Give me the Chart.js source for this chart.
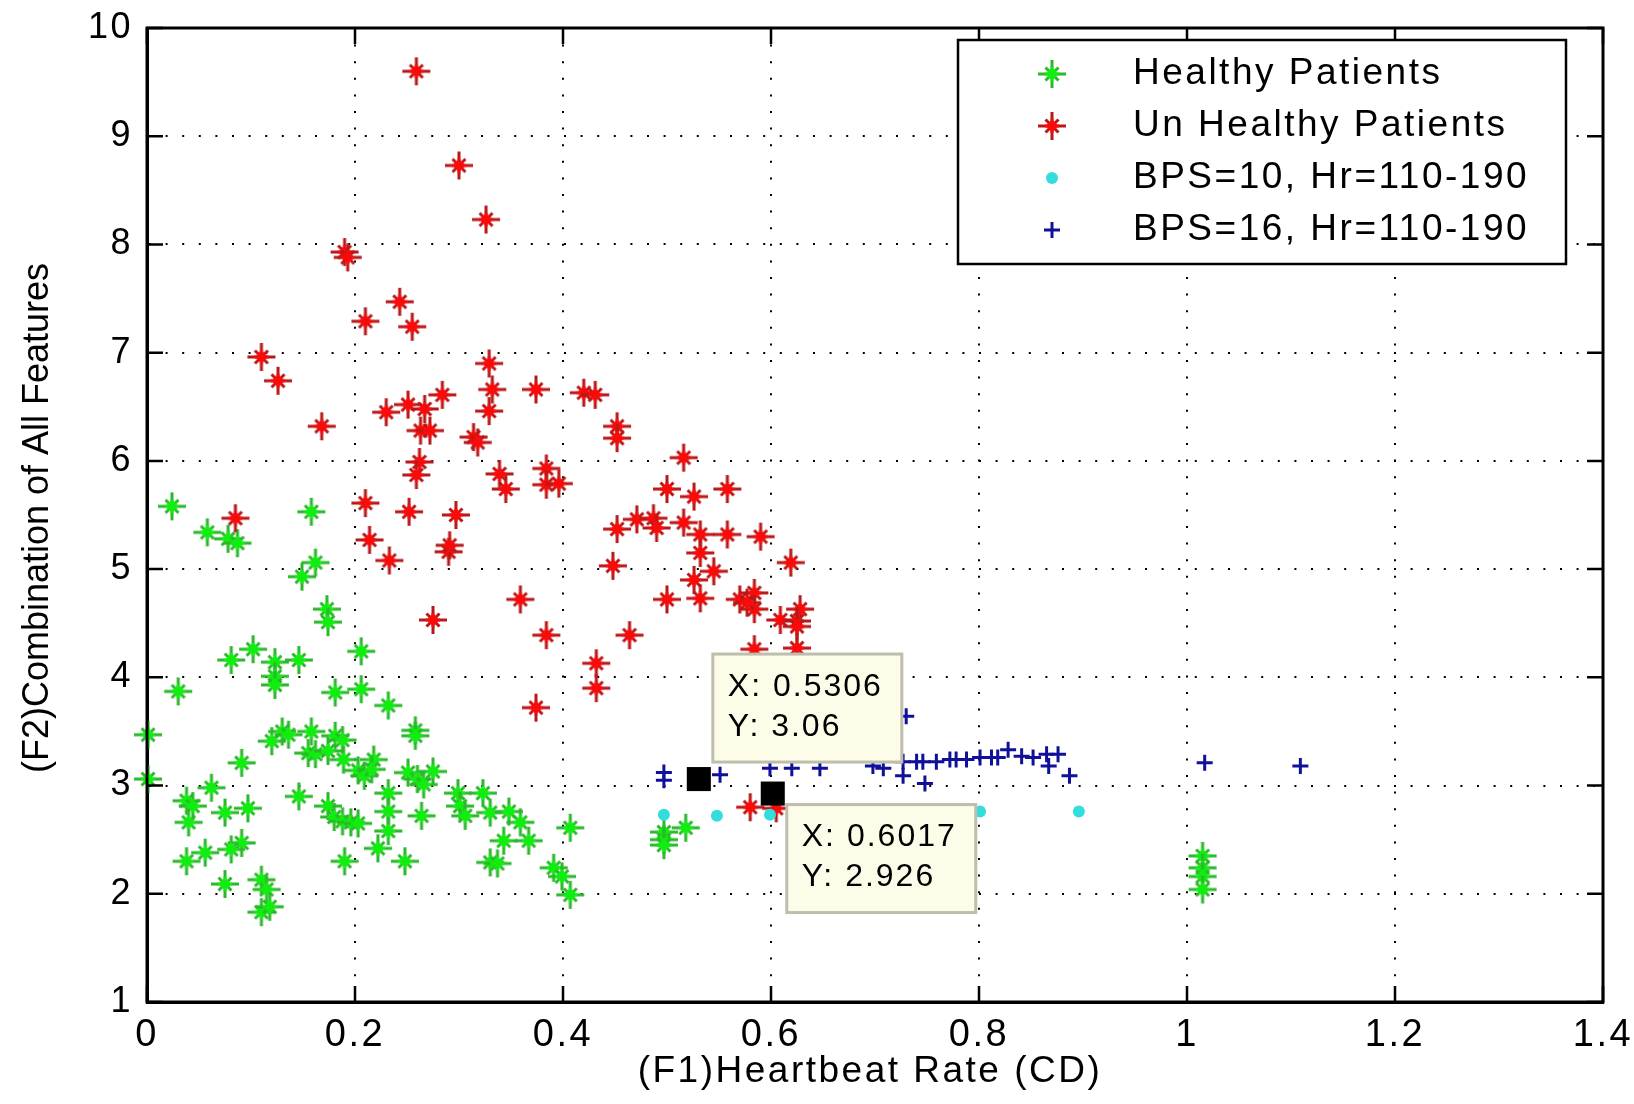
<!DOCTYPE html>
<html>
<head>
<meta charset="utf-8">
<title>F1 vs F2 scatter</title>
<script src="https://cdn.jsdelivr.net/npm/chart.js@4.4.1/dist/chart.umd.min.js"></script>
<style>
  html, body { margin: 0; padding: 0; background: #fff; }
  #wrap { width: 1634px; height: 1104px; }
</style>
</head>
<body>
<div id="wrap"><canvas id="chart" width="1634" height="1104"></canvas></div>
<script>
// each point is [F1 heartbeat rate, F2 combination of all features]
const healthy = [
  [0.024, 5.58], [0.058, 5.34], [0.078, 5.28], [0.087, 5.24], [0.158, 5.53], [0.162, 5.06],
  [0.149, 4.93], [0.173, 4.63], [0.174, 4.51], [0.206, 4.24], [0.081, 4.16], [0.102, 4.26],
  [0.123, 4.14], [0.146, 4.16], [0.123, 4.01], [0.123, 3.93], [0.030, 3.87], [0.001, 3.47],
  [0.001, 3.06], [0.181, 3.86], [0.206, 3.89], [0.232, 3.74], [0.258, 3.51], [0.258, 3.46],
  [0.130, 3.50], [0.136, 3.47], [0.158, 3.50], [0.181, 3.46], [0.188, 3.42], [0.120, 3.41],
  [0.155, 3.30], [0.162, 3.29], [0.174, 3.32], [0.189, 3.24], [0.218, 3.24], [0.203, 3.14],
  [0.209, 3.09], [0.216, 3.15], [0.091, 3.21], [0.251, 3.12], [0.260, 3.06], [0.266, 3.01],
  [0.275, 3.13], [0.232, 2.93], [0.232, 2.76], [0.232, 2.58], [0.222, 2.42], [0.248, 2.30],
  [0.190, 2.30], [0.146, 2.90], [0.174, 2.81], [0.180, 2.71], [0.188, 2.67], [0.196, 2.66],
  [0.203, 2.65], [0.264, 2.72], [0.299, 2.93], [0.323, 2.93], [0.301, 2.81], [0.306, 2.72],
  [0.330, 2.75], [0.348, 2.76], [0.359, 2.66], [0.367, 2.49], [0.343, 2.49], [0.330, 2.29],
  [0.337, 2.28], [0.407, 2.61], [0.391, 2.24], [0.399, 2.16], [0.407, 1.99], [0.062, 2.98],
  [0.038, 2.86], [0.044, 2.81], [0.040, 2.66], [0.075, 2.75], [0.097, 2.79], [0.091, 2.47],
  [0.081, 2.41], [0.056, 2.38], [0.038, 2.30], [0.075, 2.09], [0.110, 2.13], [0.115, 2.04],
  [0.110, 1.83], [0.118, 1.88], [0.497, 2.57], [0.497, 2.50], [0.497, 2.45], [0.518, 2.61],
  [1.015, 2.35], [1.015, 2.24], [1.015, 2.16], [1.015, 2.04]
];

const unhealthy = [
  [0.259, 9.60], [0.300, 8.73], [0.326, 8.23], [0.190, 7.93], [0.193, 7.88], [0.243, 7.47],
  [0.210, 7.29], [0.255, 7.24], [0.110, 6.96], [0.126, 6.74], [0.168, 6.32], [0.329, 6.90],
  [0.332, 6.66], [0.374, 6.66], [0.329, 6.46], [0.420, 6.63], [0.431, 6.61], [0.284, 6.61],
  [0.251, 6.52], [0.267, 6.48], [0.230, 6.45], [0.263, 6.28], [0.272, 6.28], [0.314, 6.22],
  [0.318, 6.17], [0.262, 5.99], [0.259, 5.87], [0.339, 5.88], [0.345, 5.74], [0.384, 5.93],
  [0.384, 5.78], [0.396, 5.79], [0.085, 5.47], [0.210, 5.61], [0.252, 5.53], [0.297, 5.50],
  [0.214, 5.27], [0.233, 5.08], [0.290, 5.16], [0.291, 5.22], [0.359, 4.72], [0.275, 4.53],
  [0.384, 4.39], [0.432, 4.13], [0.432, 3.90], [0.374, 3.72], [0.452, 6.32], [0.452, 6.21],
  [0.516, 6.03], [0.500, 5.74], [0.526, 5.67], [0.558, 5.74], [0.452, 5.37], [0.471, 5.46],
  [0.487, 5.47], [0.490, 5.38], [0.516, 5.43], [0.532, 5.32], [0.558, 5.32], [0.590, 5.30],
  [0.532, 5.15], [0.448, 5.03], [0.619, 5.06], [0.545, 4.98], [0.526, 4.90], [0.500, 4.72],
  [0.532, 4.73], [0.570, 4.72], [0.584, 4.78], [0.584, 4.63], [0.577, 4.69], [0.609, 4.53],
  [0.628, 4.63], [0.625, 4.52], [0.625, 4.47], [0.625, 4.27], [0.584, 4.26], [0.464, 4.39],
  [0.580, 2.80], [0.605, 2.79]
];

const bps10 = [
  [0.497, 2.73], [0.548, 2.72], [0.599, 2.73], [0.683, 2.77], [0.801, 2.76], [0.896, 2.76]
];

const bps16 = [
  [0.497, 3.05], [0.497, 3.12], [0.5306, 3.06], [0.551, 3.10], [0.599, 3.16], [0.620, 3.16],
  [0.647, 3.16], [0.698, 3.18], [0.708, 3.16], [0.730, 3.64], [0.727, 3.22], [0.727, 3.09],
  [0.740, 3.22], [0.746, 3.22], [0.748, 3.02], [0.759, 3.22], [0.772, 3.24], [0.778, 3.24],
  [0.788, 3.24], [0.801, 3.26], [0.812, 3.26], [0.818, 3.26], [0.828, 3.33], [0.841, 3.27],
  [0.852, 3.26], [0.865, 3.29], [0.876, 3.29], [0.867, 3.18], [0.887, 3.09], [1.017, 3.21],
  [1.109, 3.18]
];

// data tips pinned on the figure
const tipX = [0.5306, 0.6017];
const tipY = [3.06, 2.926];

const seriesNames = ['Healthy Patients', 'Un Healthy Patients', 'BPS=10, Hr=110-190', 'BPS=16, Hr=110-190'];
const xTicks = [0, 0.2, 0.4, 0.6, 0.8, 1, 1.2, 1.4];
const yTicks = [1, 2, 3, 4, 5, 6, 7, 8, 9, 10];
const xTitle = '(F1)Heartbeat Rate (CD)';
const yTitle = '(F2)Combination of All Features';

const FONT = '"Liberation Sans", Arial, sans-serif';
const toXY = arr => arr.map(p => ({ x: p[0], y: p[1] }));

// matlab '*' marker: long plus arms, short diagonals, solid middle
function makeStar(armColor, coreColor) {
  const c = document.createElement('canvas');
  c.width = 32; c.height = 32;
  const g = c.getContext('2d');
  g.lineCap = 'butt';
  g.strokeStyle = armColor;
  g.lineWidth = 3;
  g.beginPath();
  g.moveTo(16, 2); g.lineTo(16, 30);
  g.moveTo(2, 16); g.lineTo(30, 16);
  g.moveTo(9.5, 9.5); g.lineTo(22.5, 22.5);
  g.moveTo(22.5, 9.5); g.lineTo(9.5, 22.5);
  g.stroke();
  g.strokeStyle = coreColor;
  g.beginPath();
  g.moveTo(16, 9); g.lineTo(16, 23);
  g.moveTo(9, 16); g.lineTo(23, 16);
  g.stroke();
  g.fillStyle = coreColor;
  g.beginPath();
  g.arc(16, 16, 5, 0, Math.PI * 2);
  g.fill();
  return c;
}
const greenStar = makeStar('#2ab82a', '#10ee10');
const redStar = makeStar('#b81818', '#fa0a0a');

// draws the matlab style box, inward ticks, titles, data tips and legend
const matlabLook = {
  id: 'matlabLook',
  beforeUpdate(chart) { chart.ctx.letterSpacing = '2.5px'; },
  beforeDraw(chart) { chart.ctx.letterSpacing = '2.5px'; },
  afterDraw(chart) {
    const ctx = chart.ctx;
    const { left, right, top, bottom } = chart.chartArea;
    const xs = chart.scales.x, ys = chart.scales.y;
    ctx.save();

    // tick marks pointing into the plot on all four sides
    ctx.strokeStyle = '#000';
    ctx.lineWidth = 2.5;
    ctx.beginPath();
    xTicks.forEach(v => {
      const p = xs.getPixelForValue(v);
      ctx.moveTo(p, bottom); ctx.lineTo(p, bottom - 16);
      ctx.moveTo(p, top); ctx.lineTo(p, top + 16);
    });
    yTicks.forEach(v => {
      const p = ys.getPixelForValue(v);
      ctx.moveTo(left, p); ctx.lineTo(left + 16, p);
      ctx.moveTo(right, p); ctx.lineTo(right - 16, p);
    });
    ctx.stroke();
    ctx.lineWidth = 3;
    ctx.strokeRect(left, top, right - left, bottom - top);

    // axis titles
    ctx.fillStyle = '#000';
    ctx.textAlign = 'center';
    ctx.textBaseline = 'middle';
    ctx.font = '37px ' + FONT;
    ctx.letterSpacing = '2.5px';
    ctx.fillText(xTitle, (left + right) / 2 - 5, bottom + 70);
    ctx.save();
    ctx.translate(38, (top + bottom) / 2 + 3);
    ctx.rotate(-Math.PI / 2);
    ctx.font = '36px ' + FONT;
    ctx.letterSpacing = '0px';
    ctx.fillText(yTitle, 0, 0);
    ctx.restore();

    // data tip boxes, first one above the point, second one below
    tipX.forEach((x, i) => {
      const px = xs.getPixelForValue(x);
      const py = ys.getPixelForValue(tipY[i]);
      const w = 189, h = 108;
      const bx = px + 14;
      const by = i === 0 ? py - 125 : py + 11;
      ctx.fillStyle = '#fcfce9';
      ctx.fillRect(bx, by, w, h);
      ctx.strokeStyle = '#bebeae';
      ctx.lineWidth = 3;
      ctx.strokeRect(bx, by, w, h);
      ctx.fillStyle = '#000';
      ctx.font = '32px ' + FONT;
      ctx.letterSpacing = '2px';
      ctx.textAlign = 'left';
      ctx.fillText('X: ' + x, bx + 15, by + 33);
      ctx.fillText('Y: ' + tipY[i], bx + 15, by + 73);
    });

    // legend box in the top right corner
    const lw = 608, lh = 224;
    const lx = right - 37 - lw, ly = top + 12;
    ctx.fillStyle = '#fff';
    ctx.fillRect(lx, ly, lw, lh);
    ctx.strokeStyle = '#000';
    ctx.lineWidth = 2.5;
    ctx.strokeRect(lx, ly, lw, lh);
    seriesNames.forEach((name, i) => {
      const ds = chart.data.datasets[i];
      const ry = ly + 34 + i * 52;
      ctx.save();
      ctx.strokeStyle = ds.borderColor;
      ctx.fillStyle = ds.backgroundColor;
      ctx.lineWidth = ds.pointBorderWidth;
      Chart.helpers.drawPoint(ctx, {
        pointStyle: ds.pointStyle, radius: ds.pointRadius,
        borderWidth: ds.pointBorderWidth, rotation: 0
      }, lx + 94, ry);
      ctx.restore();
      ctx.fillStyle = '#000';
      ctx.font = '37px ' + FONT;
      ctx.letterSpacing = '2.5px';
      ctx.textAlign = 'left';
      ctx.textBaseline = 'middle';
      ctx.fillText(name, lx + 175, ry);
    });

    ctx.restore();
  }
};

const ctx = document.getElementById('chart').getContext('2d');
new Chart(ctx, {
  type: 'scatter',
  data: {
    datasets: [
      {
        label: seriesNames[0], data: toXY(healthy), order: 5,
        pointStyle: greenStar, pointRadius: 14, pointBorderWidth: 0,
        borderColor: '#12e012', backgroundColor: '#12e012', clip: false
      },
      {
        label: seriesNames[1], data: toXY(unhealthy), order: 4,
        pointStyle: redStar, pointRadius: 14, pointBorderWidth: 0,
        borderColor: '#ee0a0a', backgroundColor: '#ee0a0a', clip: false
      },
      {
        label: seriesNames[2], data: toXY(bps10), order: 3,
        pointStyle: 'circle', pointRadius: 6, pointBorderWidth: 0,
        borderColor: '#33dddd', backgroundColor: '#33dddd', clip: false
      },
      {
        label: seriesNames[3], data: toXY(bps16), order: 2,
        pointStyle: 'cross', pointRadius: 8, pointBorderWidth: 3,
        borderColor: '#10109a', backgroundColor: '#10109a', clip: false
      },
      {
        label: 'data tips', data: tipX.map((x, i) => ({ x: x, y: tipY[i] })), order: 1,
        pointStyle: 'rect', pointRadius: 17, pointBorderWidth: 0,
        borderColor: '#000', backgroundColor: '#000', clip: false
      }
    ]
  },
  options: {
    responsive: false,
    devicePixelRatio: 1,
    animation: false,
    events: [],
    layout: { autoPadding: false, padding: { left: 0, right: 31, top: 28, bottom: 0 } },
    plugins: {
      legend: { display: false },
      tooltip: { enabled: false }
    },
    scales: {
      x: {
        type: 'linear', min: 0, max: 1.4,
        afterBuildTicks: axis => { axis.ticks = xTicks.map(v => ({ value: v })); },
        afterFit: axis => {
          axis.height = 102;
          axis.paddingLeft = 0; axis.paddingRight = 0;
        },
        ticks: {
          color: '#000', padding: 11, maxRotation: 0, autoSkip: false,
          font: { family: FONT, size: 38 },
          callback: v => String(Number(v.toFixed(1)))
        },
        grid: { color: '#000', lineWidth: 2, drawTicks: false },
        border: { display: true, color: '#000', width: 3, dash: [2, 14.6] },
        title: { display: false }
      },
      y: {
        type: 'linear', min: 1, max: 10,
        afterBuildTicks: axis => { axis.ticks = yTicks.map(v => ({ value: v })); },
        afterFit: axis => {
          axis.width = 147;
          axis.paddingTop = 0; axis.paddingBottom = 0;
        },
        ticks: {
          color: '#000', padding: 14, autoSkip: false,
          font: { family: FONT, size: 36 }
        },
        grid: { color: '#000', lineWidth: 2, drawTicks: false },
        border: { display: true, color: '#000', width: 3, dash: [2, 14.6] },
        title: { display: false }
      }
    }
  },
  plugins: [matlabLook]
});
</script>
</body>
</html>
